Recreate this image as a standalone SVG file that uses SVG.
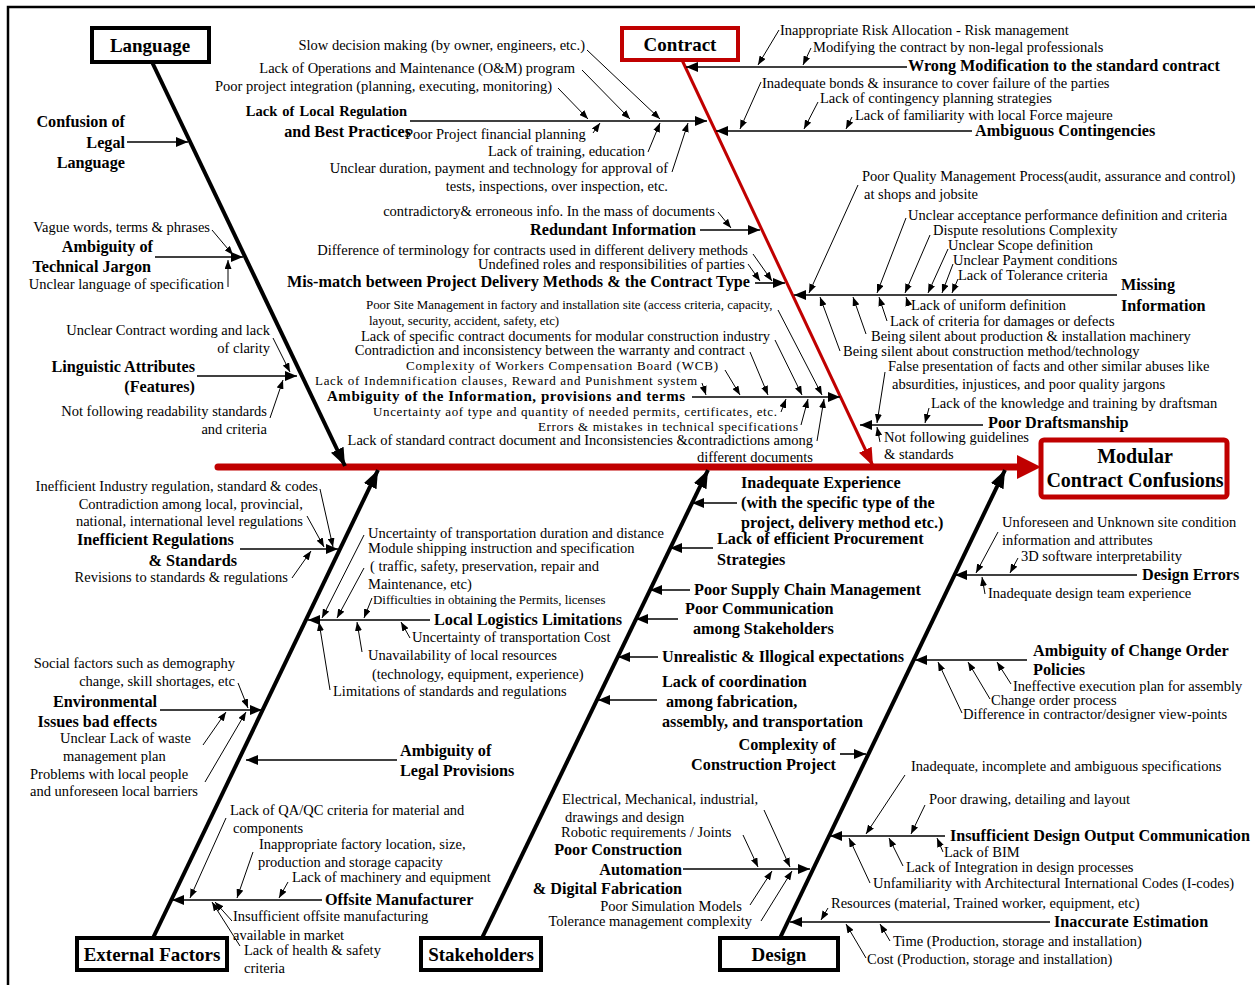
<svg xmlns="http://www.w3.org/2000/svg" width="1255" height="985" viewBox="0 0 1255 985">
<style>
text{font-family:"Liberation Serif","Times New Roman",serif;font-size:14.5px;fill:#000}
.b{font-weight:bold;font-size:16.2px}
.s{font-size:12.9px}
.n{font-size:13px}
.bx{font-weight:bold;font-size:19px}
.mx{font-weight:bold;font-size:20px}
.e{text-anchor:end}
.m{text-anchor:middle}
.br{stroke:#000;stroke-width:1.6;fill:none;marker-end:url(#mb)}
.sb{stroke:#000;stroke-width:1;fill:none;marker-end:url(#ms)}
.bone{stroke:#000;stroke-width:4;fill:none;marker-end:url(#mk)}
.rbone{stroke:#c00000;stroke-width:3;fill:none;marker-end:url(#mr)}
.box{fill:#fff;stroke:#000;stroke-width:4}
.rbox{fill:#fff;stroke:#c00000;stroke-width:4}
</style>
<defs>
<marker id="mb" markerUnits="userSpaceOnUse" markerWidth="12" markerHeight="10" refX="12" refY="5" orient="auto"><path d="M0,0 L12,5 L0,10 z" fill="#000"/></marker>
<marker id="ms" markerUnits="userSpaceOnUse" markerWidth="9" markerHeight="7" refX="9" refY="3.5" orient="auto"><path d="M0,0 L9,3.5 L0,7 z" fill="#000"/></marker>
<marker id="mk" markerUnits="userSpaceOnUse" markerWidth="18" markerHeight="14" refX="18" refY="7" orient="auto"><path d="M0,0 L18,7 L0,14 z" fill="#000"/></marker>
<marker id="mr" markerUnits="userSpaceOnUse" markerWidth="18" markerHeight="14" refX="18" refY="7" orient="auto"><path d="M0,0 L18,7 L0,14 z" fill="#c00000"/></marker>
</defs>
<rect width="1255" height="985" fill="#fff"/>
<path d="M8,985 L8,7 L1255,7" fill="none" stroke="#000" stroke-width="2.5"/>

<g id="connectors">
<line x1="218" y1="467" x2="1020" y2="467" stroke="#c00000" stroke-width="7" stroke-linecap="round"/>
<polygon points="1017,455 1041,467 1017,479" fill="#c00000"/>
<line class="bone" x1="152" y1="62" x2="345" y2="466"/>
<line class="rbone" x1="682" y1="60" x2="873" y2="466"/>
<line class="bone" x1="153" y1="938" x2="378" y2="470"/>
<line class="bone" x1="482" y1="938" x2="708" y2="470"/>
<line class="bone" x1="780" y1="938" x2="1005" y2="470"/>
<line class="br" x1="127" y1="142" x2="188" y2="142"/>
<line class="br" x1="155" y1="257" x2="243" y2="257"/>
<line class="sb" x1="212" y1="230" x2="233" y2="255"/>
<line class="sb" x1="228" y1="287" x2="228" y2="260"/>
<line class="br" x1="197" y1="376" x2="297" y2="376"/>
<line class="sb" x1="273" y1="338" x2="290" y2="372"/>
<line class="sb" x1="270" y1="418" x2="283" y2="380"/>
<line class="br" x1="410" y1="121" x2="707" y2="121"/>
<line class="sb" x1="587" y1="50" x2="660" y2="119"/>
<line class="sb" x1="582" y1="70" x2="630" y2="119"/>
<line class="sb" x1="558" y1="88" x2="588" y2="119"/>
<line class="sb" x1="593" y1="133" x2="600" y2="123"/>
<line class="sb" x1="648" y1="152" x2="660" y2="123"/>
<line class="sb" x1="672" y1="172" x2="688" y2="123"/>
<line class="br" x1="907" y1="67" x2="686" y2="67"/>
<line class="sb" x1="779" y1="30" x2="758" y2="65"/>
<line class="sb" x1="811" y1="48" x2="803" y2="65"/>
<line class="br" x1="972" y1="131" x2="716" y2="131"/>
<line class="sb" x1="761" y1="82" x2="740" y2="129"/>
<line class="sb" x1="818" y1="102" x2="804" y2="129"/>
<line class="sb" x1="852" y1="117" x2="846" y2="129"/>
<line class="br" x1="700" y1="230" x2="760" y2="230"/>
<line class="sb" x1="718" y1="212" x2="731" y2="228"/>
<line class="br" x1="755" y1="283" x2="785" y2="283"/>
<line class="sb" x1="753" y1="254" x2="772" y2="281"/>
<line class="sb" x1="748" y1="264" x2="760" y2="281"/>
<line class="br" x1="692" y1="397" x2="840" y2="397"/>
<line class="sb" x1="778" y1="310" x2="822" y2="395"/>
<line class="sb" x1="775" y1="340" x2="802" y2="395"/>
<line class="sb" x1="750" y1="352" x2="768" y2="395"/>
<line class="sb" x1="725" y1="370" x2="740" y2="395"/>
<line class="sb" x1="702" y1="383" x2="706" y2="395"/>
<line class="sb" x1="781" y1="412" x2="786" y2="399"/>
<line class="sb" x1="801" y1="425" x2="808" y2="399"/>
<line class="sb" x1="817" y1="441" x2="824" y2="399"/>
<line class="br" x1="1117" y1="295" x2="794" y2="295"/>
<line class="sb" x1="858" y1="185" x2="809" y2="293"/>
<line class="sb" x1="906" y1="218" x2="877" y2="293"/>
<line class="sb" x1="930" y1="235" x2="905" y2="293"/>
<line class="sb" x1="948" y1="249" x2="928" y2="293"/>
<line class="sb" x1="953" y1="264" x2="942" y2="293"/>
<line class="sb" x1="958" y1="279" x2="952" y2="293"/>
<line class="sb" x1="909" y1="306" x2="906" y2="297"/>
<line class="sb" x1="887" y1="321" x2="879" y2="297"/>
<line class="sb" x1="866" y1="334" x2="853" y2="297"/>
<line class="sb" x1="840" y1="351" x2="820" y2="297"/>
<line class="br" x1="983" y1="425" x2="860" y2="425"/>
<line class="sb" x1="885" y1="372" x2="877" y2="423"/>
<line class="sb" x1="929" y1="408" x2="925" y2="423"/>
<line class="sb" x1="880" y1="442" x2="877" y2="427"/>
<line class="br" x1="240" y1="549" x2="338" y2="549"/>
<line class="sb" x1="320" y1="489" x2="333" y2="547"/>
<line class="sb" x1="307" y1="516" x2="324" y2="547"/>
<line class="sb" x1="292" y1="578" x2="311" y2="551"/>
<line class="br" x1="430" y1="620" x2="308" y2="620"/>
<line class="sb" x1="364" y1="535" x2="322" y2="618"/>
<line class="sb" x1="364" y1="568" x2="337" y2="618"/>
<line class="sb" x1="372" y1="598" x2="364" y2="618"/>
<line class="sb" x1="410" y1="638" x2="401" y2="622"/>
<line class="sb" x1="362" y1="652" x2="357" y2="622"/>
<line class="sb" x1="330" y1="690" x2="319" y2="622"/>
<line class="br" x1="160" y1="710" x2="262" y2="710"/>
<line class="sb" x1="238" y1="683" x2="248" y2="708"/>
<line class="sb" x1="203" y1="745" x2="226" y2="712"/>
<line class="sb" x1="205" y1="782" x2="246" y2="712"/>
<line class="br" x1="397" y1="760" x2="246" y2="760"/>
<line class="br" x1="322" y1="900" x2="172" y2="900"/>
<line class="sb" x1="226" y1="818" x2="190" y2="898"/>
<line class="sb" x1="253" y1="852" x2="237" y2="898"/>
<line class="sb" x1="288" y1="882" x2="279" y2="898"/>
<line class="sb" x1="232" y1="921" x2="215" y2="902"/>
<line class="sb" x1="240" y1="946" x2="212" y2="902"/>
<line class="br" x1="737" y1="503" x2="692" y2="503"/>
<line class="br" x1="713" y1="548" x2="670" y2="548"/>
<line class="br" x1="690" y1="590" x2="650" y2="590"/>
<line class="br" x1="678" y1="619" x2="636" y2="619"/>
<line class="br" x1="658" y1="657" x2="618" y2="657"/>
<line class="br" x1="657" y1="700" x2="598" y2="700"/>
<line class="br" x1="840" y1="754" x2="866" y2="754"/>
<line class="br" x1="683" y1="869" x2="810" y2="869"/>
<line class="sb" x1="764" y1="810" x2="790" y2="867"/>
<line class="sb" x1="743" y1="835" x2="758" y2="867"/>
<line class="sb" x1="750" y1="905" x2="772" y2="871"/>
<line class="sb" x1="761" y1="921" x2="792" y2="871"/>
<line class="br" x1="1137" y1="575" x2="955" y2="575"/>
<line class="sb" x1="998" y1="532" x2="976" y2="573"/>
<line class="sb" x1="1018" y1="558" x2="1010" y2="573"/>
<line class="sb" x1="985" y1="594" x2="982" y2="577"/>
<line class="br" x1="1027" y1="660" x2="915" y2="660"/>
<line class="sb" x1="1011" y1="684" x2="997" y2="662"/>
<line class="sb" x1="990" y1="699" x2="968" y2="662"/>
<line class="sb" x1="962" y1="713" x2="938" y2="662"/>
<line class="br" x1="945" y1="836" x2="830" y2="836"/>
<line class="sb" x1="905" y1="775" x2="866" y2="834"/>
<line class="sb" x1="925" y1="805" x2="911" y2="834"/>
<line class="sb" x1="943" y1="852" x2="937" y2="838"/>
<line class="sb" x1="903" y1="866" x2="889" y2="838"/>
<line class="sb" x1="870" y1="883" x2="849" y2="838"/>
<line class="br" x1="1050" y1="922" x2="790" y2="922"/>
<line class="sb" x1="828" y1="908" x2="821" y2="920"/>
<line class="sb" x1="890" y1="941" x2="880" y2="924"/>
<line class="sb" x1="866" y1="958" x2="846" y2="924"/>
</g>

<g id="language">
<rect class="box" x="92" y="28" width="117" height="34"/>
<text class="bx m" x="150" y="52">Language</text>
</g>
<g id="contract">
<rect class="rbox" x="622" y="28" width="116" height="32"/>
<text class="bx m" x="680" y="51">Contract</text>
</g>
<g id="modular">
<rect x="1041" y="440" width="186" height="57" rx="3" fill="#fff" stroke="#c00000" stroke-width="5"/>
<text class="mx m" x="1135" y="463">Modular</text>
<text class="mx m" x="1135" y="487">Contract Confusions</text>
</g>
<g id="external">
<rect class="box" x="77" y="938" width="150" height="32"/>
<text class="bx m" x="152" y="961">External Factors</text>
</g>
<g id="stakeholders">
<rect class="box" x="421" y="938" width="120" height="32"/>
<text class="bx m" x="481" y="961">Stakeholders</text>
</g>
<g id="design">
<rect class="box" x="720" y="938" width="118" height="32"/>
<text class="bx m" x="779" y="961">Design</text>
</g>

<g id="confusion-legal">
<text class="b e" x="125" y="127">Confusion of</text>
<text class="b e" x="125" y="148">Legal</text>
<text class="b e" x="125" y="168">Language</text>
</g>
<g id="technical-jargon">
<text class="e" x="210" y="232">Vague words, terms &amp; phrases</text>
<text class="b e" x="153" y="252">Ambiguity of</text>
<text class="b e" x="151" y="272">Technical Jargon</text>
<text class="e" x="224" y="289">Unclear language of specification</text>
</g>
<g id="linguistic">
<text class="e" x="270" y="335">Unclear Contract wording and lack</text>
<text class="e" x="270" y="353">of clarity</text>
<text class="b e" x="195" y="372">Linguistic Attributes</text>
<text class="b e" x="195" y="392">(Features)</text>
<text class="e" x="267" y="416">Not following readability standards</text>
<text class="e" x="267" y="434">and criteria</text>
</g>
<g id="local-regulation">
<text class="e" x="585" y="50">Slow decision making (by owner, engineers, etc.)</text>
<text class="e" x="575" y="73">Lack of Operations and Maintenance (O&amp;M) program</text>
<text class="e" x="552" y="91">Poor project integration (planning, executing, monitoring)</text>
<text class="b e" x="407" y="116" style="font-size:14.5px;word-spacing:1.5px">Lack of Local Regulation</text>
<text class="b e" x="411" y="137">and Best Practices</text>
<text x="405" y="139">Poor Project financial planning</text>
<text class="e" x="645" y="156">Lack of training, education</text>
<text class="e" x="668" y="173">Unclear duration, payment and technology for approval of</text>
<text class="e" x="668" y="191">tests, inspections, over inspection, etc.</text>
</g>
<g id="redundant">
<text class="e" x="715" y="216">contradictory&amp; erroneous info. In the mass of documents</text>
<text class="b e" x="696" y="235">Redundant Information</text>
</g>
<g id="mismatch">
<text class="e" x="748" y="255">Difference of terminology for contracts used in different delivery methods</text>
<text class="e" x="745" y="269">Undefined roles and responsibilities of parties</text>
<text class="b e" x="750" y="287">Mis-match between Project Delivery Methods &amp; the Contract Type</text>
</g>
<g id="ambiguity-information">
<text class="s" x="366" y="309">Poor Site Management in factory and installation site (access criteria, capacity,</text>
<text class="s" x="369" y="325">layout, security, accident, safety, etc)</text>
<text class="e" x="770" y="341">Lack of specific contract documents for modular  construction industry</text>
<text class="e" x="745" y="355">Contradiction and inconsistency between the warranty and contract</text>
<text class="n e" x="718" y="370" textLength="312" lengthAdjust="spacing">Complexity of Workers Compensation Board (WCB)</text>
<text class="n e" x="697" y="384.5" textLength="382" lengthAdjust="spacing">Lack of Indemnification clauses, Reward and Punishment system</text>
<text class="e" x="685" y="401" textLength="358" lengthAdjust="spacing" style="font-weight:bold;font-size:15px">Ambiguity of the Information, provisions and terms</text>
<text class="n e" x="777" y="416" textLength="404" lengthAdjust="spacing">Uncertainty aof type and quantity of needed permits, certificates, etc.</text>
<text class="n e" x="798" y="431" textLength="260" lengthAdjust="spacing">Errors &amp; mistakes in technical specifications</text>
<text class="e" x="813" y="444.5">Lack of standard contract document and Inconsistencies &amp;contradictions among</text>
<text class="e" x="813" y="461.5">different documents</text>
</g>
<g id="wrong-modification">
<text x="780" y="35">Inappropriate Risk Allocation - Risk management</text>
<text x="813" y="52">Modifying the contract by non-legal professionals</text>
<text class="b" x="908" y="71">Wrong Modification to the standard contract</text>
</g>
<g id="contingencies">
<text x="762" y="88">Inadequate bonds &amp; insurance to cover failure of the parties</text>
<text x="820" y="103">Lack of contingency planning strategies</text>
<text x="855" y="120">Lack of familiarity with local Force majeure</text>
<text class="b" x="975" y="136">Ambiguous Contingencies</text>
</g>
<g id="missing-information">
<text x="862" y="181">Poor Quality Management Process(audit, assurance and control)</text>
<text x="864" y="199">at shops and jobsite</text>
<text x="908" y="220">Unclear acceptance performance definition and criteria</text>
<text x="933" y="235">Dispute resolutions Complexity</text>
<text x="948" y="250">Unclear Scope definition</text>
<text x="953" y="265">Unclear Payment conditions</text>
<text x="958" y="280">Lack of Tolerance criteria</text>
<text class="b" x="1121" y="290">Missing</text>
<text class="b" x="1121" y="311">Information</text>
<text x="911" y="310">Lack of uniform definition</text>
<text x="890" y="326">Lack of criteria for damages or defects</text>
<text x="871" y="341">Being silent about production &amp; installation machinery</text>
<text x="843" y="356">Being silent about construction method/technology</text>
</g>
<g id="draftsmanship">
<text x="888" y="371">False presentation of facts and other similar abuses like</text>
<text x="892" y="389">absurdities, injustices, and poor quality jargons</text>
<text x="931" y="408">Lack of the knowledge and training by draftsman</text>
<text class="b" x="988" y="428">Poor Draftsmanship</text>
<text x="884" y="442">Not following guidelines</text>
<text x="884" y="459">&amp; standards</text>
</g>
<g id="regulations">
<text class="e" x="318" y="491">Inefficient Industry regulation, standard &amp; codes</text>
<text class="e" x="303" y="509">Contradiction among local, provincial,</text>
<text class="e" x="303" y="526">national, international level regulations</text>
<text class="b" x="77" y="545">Inefficient Regulations</text>
<text class="b e" x="237" y="566">&amp; Standards</text>
<text class="e" x="288" y="582">Revisions to standards &amp; regulations</text>
</g>
<g id="logistics">
<text x="368" y="538">Uncertainty of transportation duration  and distance</text>
<text x="368" y="553">Module shipping instruction and specification</text>
<text x="370" y="571">( traffic, safety, preservation, repair and</text>
<text x="368" y="589">Maintenance, etc)</text>
<text class="s" x="373" y="604">Difficulties in obtaining the Permits, licenses</text>
<text class="b" x="434" y="625">Local Logistics Limitations</text>
<text x="412" y="642">Uncertainty of transportation Cost</text>
<text x="368" y="660">Unavailability of local resources</text>
<text x="372" y="679">(technology, equipment, experience)</text>
<text x="333" y="696">Limitations of standards and regulations</text>
</g>
<g id="environmental">
<text class="e" x="235" y="668">Social factors such as demography</text>
<text class="e" x="235" y="686">change, skill shortages, etc</text>
<text class="b e" x="157" y="707">Environmental</text>
<text class="b e" x="157" y="727">Issues bad effects</text>
<text x="60" y="743">Unclear Lack of waste</text>
<text x="63" y="761">management plan</text>
<text x="30" y="779">Problems with local people</text>
<text x="30" y="796">and unforeseen local barriers</text>
</g>
<g id="legal-provisions">
<text class="b" x="400" y="756">Ambiguity of</text>
<text class="b" x="400" y="776">Legal Provisions</text>
</g>
<g id="offsite">
<text x="230" y="815">Lack of QA/QC criteria for material and</text>
<text x="233" y="833">components</text>
<text x="259" y="849">Inappropriate factory location, size,</text>
<text x="258" y="867">production and storage capacity</text>
<text x="292" y="882">Lack of machinery and equipment</text>
<text class="b" x="325" y="905">Offsite Manufacturer</text>
<text x="233" y="921">Insufficient offsite manufacturing</text>
<text x="233" y="940">available in market</text>
<text x="244" y="955">Lack of health &amp; safety</text>
<text x="244" y="973">criteria</text>
</g>
<g id="stakeholder-branches">
<text class="b" x="741" y="488">Inadequate Experience</text>
<text class="b" x="741" y="508">(with the specific type of the</text>
<text class="b" x="741" y="528">project, delivery method etc.)</text>
<text class="b" x="717" y="544">Lack of efficient Procurement</text>
<text class="b" x="717" y="565">Strategies</text>
<text class="b" x="694" y="595">Poor Supply Chain Management</text>
<text class="b" x="685" y="614">Poor Communication</text>
<text class="b" x="693" y="634">among Stakeholders</text>
<text class="b" x="662" y="662">Unrealistic &amp; Illogical expectations</text>
<text class="b" x="662" y="687">Lack of coordination</text>
<text class="b" x="666" y="707">among fabrication,</text>
<text class="b" x="662" y="727">assembly, and transportation</text>
<text class="b e" x="836" y="750">Complexity of</text>
<text class="b e" x="836" y="770">Construction Project</text>
</g>
<g id="automation">
<text x="562" y="804">Electrical, Mechanical, industrial,</text>
<text x="565" y="822">drawings and design</text>
<text x="561" y="837">Robotic requirements / Joints</text>
<text class="b e" x="682" y="855">Poor Construction</text>
<text class="b e" x="682" y="875">Automation</text>
<text class="b e" x="682" y="894">&amp; Digital Fabrication</text>
<text class="e" x="742" y="911">Poor Simulation Models</text>
<text class="e" x="752" y="926">Tolerance management complexity</text>
</g>
<g id="design-errors">
<text x="1002" y="527">Unforeseen and Unknown site condition</text>
<text x="1002" y="545">information and attributes</text>
<text x="1021" y="561">3D software interpretability</text>
<text class="b" x="1142" y="580">Design Errors</text>
<text x="988" y="598">Inadequate design team experience</text>
</g>
<g id="change-order">
<text class="b" x="1033" y="656">Ambiguity of Change Order</text>
<text class="b" x="1033" y="675">Policies</text>
<text x="1013" y="691">Ineffective execution plan for assembly</text>
<text x="991" y="705">Change order process</text>
<text x="963" y="719">Difference in contractor/designer view-points</text>
</g>
<g id="design-output">
<text x="911" y="771">Inadequate, incomplete and ambiguous specifications</text>
<text x="929" y="804">Poor drawing, detailing and layout</text>
<text class="b" x="950" y="841">Insufficient Design Output Communication</text>
<text x="944" y="857">Lack of BIM</text>
<text x="906" y="872">Lack of Integration in design processes</text>
<text x="873" y="888">Unfamiliarity with Architectural International Codes (I-codes)</text>
</g>
<g id="estimation">
<text x="831" y="908">Resources (material, Trained worker, equipment, etc)</text>
<text class="b" x="1054" y="927">Inaccurate Estimation</text>
<text x="893" y="946">Time (Production, storage and installation)</text>
<text x="867" y="964">Cost (Production, storage and installation)</text>
</g>
</svg>
